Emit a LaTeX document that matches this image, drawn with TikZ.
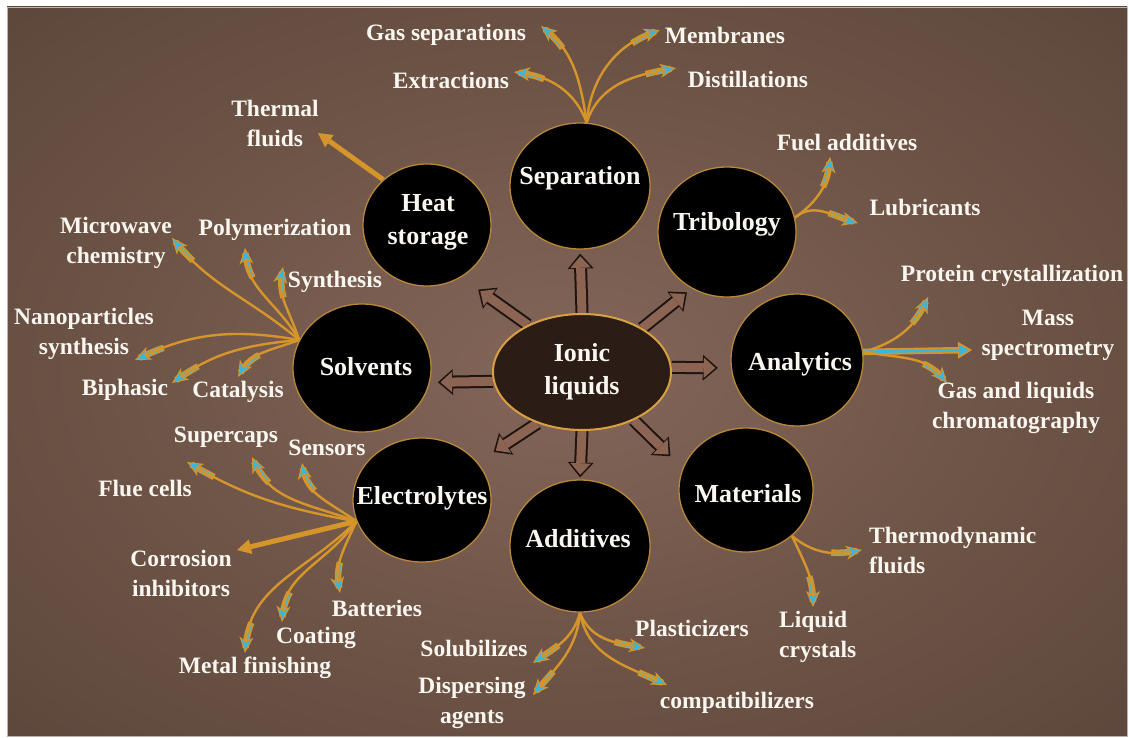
\documentclass[tikz,border=0pt]{standalone}
\usepackage{fontspec}
\setmainfont{Liberation Serif}
\usetikzlibrary{shapes.geometric,arrows.meta}

\definecolor{bgin}{HTML}{836659}
\definecolor{bgmid}{HTML}{6B5245}
\definecolor{bgout}{HTML}{4C3A31}
\definecolor{framegray}{HTML}{BDB3AA}
\definecolor{hubfill}{HTML}{2B1C16}
\definecolor{hubrim}{HTML}{D9A042}
\definecolor{rim}{HTML}{B8873A}
\definecolor{fatfill}{HTML}{8C6454}
\definecolor{fatrim}{HTML}{1F130F}
\definecolor{gold}{HTML}{D6952B}
\definecolor{tipcyan}{HTML}{3DB5DA}
\definecolor{labelwhite}{HTML}{FAF6F0}

\pgfdeclareradialshading{bgglow}{\pgfpoint{0bp}{0bp}}{%
  color(0bp)=(bgin); color(22bp)=(bgmid); color(52bp)=(bgout); color(80bp)=(bgout)}

\pgfdeclarelayer{bg}
\pgfdeclarelayer{links}
\pgfsetlayers{bg,links,main}

\tikzset{
  hub/.style={ellipse, fill=hubfill, draw=hubrim, line width=2pt,
    minimum width=178pt, minimum height=116pt, inner sep=0pt},
  blob/.style={ellipse, fill=black, draw=rim, line width=1.3pt, inner sep=0pt},
  ctext/.style={text=labelwhite, font=\fontsize{26}{33}\selectfont\bfseries,
    align=center, inner sep=0pt},
  ltext/.style={text=labelwhite, font=\fontsize{23.5}{30}\selectfont\bfseries,
    align=center, inner sep=0pt},
  fatout/.style={draw=fatrim, line width=13pt,
    -{Triangle[width=26pt,length=15pt,line width=0pt]}},
  fatin/.style={draw=fatfill, line width=9pt,
    -{Triangle[width=20.5pt,length=11.5pt,line width=0pt]}},
  branch/.style={draw=gold, line width=2.4pt, line cap=round,
    -{Stealth[length=16pt,width=14pt,inset=4.5pt,color=gold,fill=tipcyan,line width=1pt]}},
  bandout/.style={draw=gold, line width=6.5pt, dash pattern=on 26pt off 3000pt,
    shorten <=5pt},
  bandin/.style={draw=tipcyan!85!gold, line width=3.6pt, dash pattern=on 24pt off 3000pt,
    shorten <=5pt},
  trunk/.style={draw=gold, line width=5pt,
    -{Triangle[length=14pt,width=15pt,line width=0pt]}},
  massout/.style={draw=gold, line width=6.5pt,
    -{Triangle[length=14pt,width=17pt,line width=0pt]}},
  massin/.style={draw=tipcyan, line width=2.8pt,
    -{Triangle[length=10pt,width=11pt,line width=0pt]}},
}

% thick outlined arrow: outline pass, then fill pass set back a little
\newcommand\fatlink[4]{%
  \draw[fatout, shorten >=#3pt] (#1) -- (#2);
  \draw[fatin, shorten >=#4pt] (#1) -- (#2);}

% curved branch: a widened cyan band near the tip (drawn tip-first so the
% dash covers only the last stretch), then the gold stroke with its head
\newcommand\branchto[4]{%
  \draw[bandout] (#2) to[out=#4,in=#3] (#1);
  \draw[bandin]  (#2) to[out=#4,in=#3] (#1);
  \draw[branch]  (#1) to[out=#3,in=#4] (#2);}

\begin{document}
\begin{tikzpicture}[x=1pt,y=1pt]
\useasboundingbox (0,0) rectangle (1129,-738);

\begin{pgfonlayer}{bg}
  \fill[white] (0,0) rectangle (1129,-738);
  \shade[shading=bgglow] (7,-7) rectangle (1127,-736);
  \draw[line width=0.8pt, draw=framegray] (7,-7) rectangle (1127,-736);
\end{pgfonlayer}

% central hub and the eight application areas
\node[hub] (il) at (582,-372) {};
\node[blob, minimum width=140pt, minimum height=126pt] (sep) at (580,-186) {};
\node[blob, minimum width=128pt, minimum height=122pt] (hs)  at (427,-225) {};
\node[blob, minimum width=138pt, minimum height=130pt] (tri) at (727,-232) {};
\node[blob, minimum width=138pt, minimum height=128pt] (sol) at (362,-368) {};
\node[blob, minimum width=132pt, minimum height=132pt] (ana) at (797,-360) {};
\node[blob, minimum width=138pt, minimum height=124pt] (ele) at (422,-500) {};
\node[blob, minimum width=140pt, minimum height=132pt] (add) at (580,-546) {};
\node[blob, minimum width=134pt, minimum height=124pt] (mat) at (746,-490) {};

\node[ctext] (lIL)  at (582,-372) {Ionic\\liquids};
\node[ctext] (lSep) at (580,-178) {Separation};
\node[ctext] (lHS)  at (428,-222) {Heat\\storage};
\node[ctext] (lTri) at (727,-224) {Tribology};
\node[ctext] (lSol) at (366,-367) {Solvents};
\node[ctext] (lAna) at (800,-364) {Analytics};
\node[ctext] (lEle) at (422,-498) {Electrolytes};
\node[ctext] (lAdd) at (578,-539) {Additives};
\node[ctext] (lMat) at (748,-494) {Materials};

% uses
\node[ltext] (uGas)   at (446,-35)  {Gas separations};
\node[ltext] (uExt)   at (451,-80)  {Extractions};
\node[ltext] (uMem)   at (725,-35)  {Membranes};
\node[ltext] (uDis)   at (748,-79)  {Distillations};
\node[ltext] (uTh)    at (275,-123) {Thermal\\fluids};
\node[ltext] (uFuel)  at (847,-142) {Fuel additives};
\node[ltext] (uLub)   at (925,-207) {Lubricants};
\node[ltext] (uProt)  at (1012,-276) {Protein crystallization};
\node[ltext] (uMass)  at (1048,-335) {Mass\\spectrometry};
\node[ltext] (uChrom) at (1016,-408) {Gas and liquids\\chromatography};
\node[ltext, align=left, anchor=west] (uThermo) at (869,-550) {Thermodynamic\\fluids};
\node[ltext, align=left, anchor=west] (uLiq)    at (779,-637) {Liquid\\crystals};
\node[ltext] (uSolu)  at (474,-648) {Solubilizes};
\node[ltext] (uDisp)  at (472,-703) {Dispersing\\agents};
\node[ltext] (uPlas)  at (692,-628) {Plasticizers};
\node[ltext] (uComp)  at (737,-703) {compatibilizers};
\node[ltext] (uFlue)  at (145,-488) {Flue cells};
\node[ltext] (uSup)   at (226,-437) {Supercaps};
\node[ltext] (uSens)  at (327,-448) {Sensors};
\node[ltext] (uCorr)  at (181,-573) {Corrosion\\inhibitors};
\node[ltext] (uBatt)  at (377,-608) {Batteries};
\node[ltext] (uCoat)  at (316,-638) {Coating};
\node[ltext] (uMetal) at (255,-668) {Metal finishing};
\node[ltext] (uMicro) at (116,-243) {Microwave\\chemistry};
\node[ltext] (uPoly)  at (275,-230) {Polymerization};
\node[ltext] (uSyn)   at (335,-282) {Synthesis};
\node[ltext] (uNano)  at (84,-334)  {Nanoparticles\\synthesis};
\node[ltext] (uBi)    at (125,-390) {Biphasic};
\node[ltext] (uCat)   at (238,-392) {Catalysis};

% arrow tips beside the labels
\coordinate (tGas)   at (541,-26);
\coordinate (tExt)   at (514,-72);
\coordinate (tMem)   at (660,-30);
\coordinate (tDis)   at (676,-68);
\coordinate (tTh)    at (318,-133);
\coordinate (tFuel)  at (830,-157);
\coordinate (tLub)   at (858,-223);
\coordinate (tProt)  at (928,-297);
\coordinate (tMass)  at (972,-350);
\coordinate (tChrom) at (947,-383);
\coordinate (tThermo) at (862,-550);
\coordinate (tLiq)   at (813,-607);
\coordinate (tSolu)  at (533,-663);
\coordinate (tDisp)  at (533,-695);
\coordinate (tPlas)  at (645,-648);
\coordinate (tComp)  at (667,-685);
\coordinate (tFlue)  at (187,-462);
\coordinate (tSup)   at (252,-457);
\coordinate (tSens)  at (302,-463);
\coordinate (tCorr)  at (237,-550);
\coordinate (tBatt)  at (340,-593);
\coordinate (tCoat)  at (282,-622);
\coordinate (tMetal) at (245,-653);
\coordinate (tMicro) at (172,-238);
\coordinate (tPoly)  at (245,-248);
\coordinate (tSyn)   at (283,-267);
\coordinate (tNano)  at (135,-360);
\coordinate (tBi)    at (172,-383);
\coordinate (tCat)   at (238,-377);

\begin{pgfonlayer}{links}
  % hub to areas
  \fatlink{il.90}{sep.-90}{4}{6.6}
  \fatlink{il.139}{hs.-57}{21}{23.6}
  \fatlink{il.36}{tri.-122}{6}{8.6}
  \fatlink{il.186}{sol.-12}{8}{10.6}
  \fatlink{il.3}{ana.187}{13}{15.6}
  \fatlink{il.229}{ele.34}{19}{21.6}
  \fatlink{il.-90}{add.90}{2}{4.6}
  \fatlink{il.-43}{mat.161}{17}{19.6}

  % separation
  \branchto{sep.84}{tGas}{98}{-40}
  \branchto{sep.84}{tExt}{110}{-8}
  \branchto{sep.84}{tMem}{85}{200}
  \branchto{sep.84}{tDis}{72}{190}
  % heat storage
  \draw[trunk] (hs.134) -- (tTh);
  % tribology
  \branchto{tri.12}{tFuel}{35}{-95}
  \branchto{tri.12}{tLub}{40}{165}
  % analytics
  \branchto{ana.7}{tProt}{15}{-115}
  \draw[massout] (ana.7) -- (tMass);
  \draw[massin, shorten >=3pt] (ana.7) -- (tMass);
  \branchto{ana.7}{tChrom}{-10}{130}
  % materials
  \branchto{mat.-45}{tThermo}{-40}{190}
  \branchto{mat.-45}{tLiq}{-65}{90}
  % additives
  \branchto{add.-90}{tSolu}{-105}{35}
  \branchto{add.-90}{tDisp}{-95}{50}
  \branchto{add.-90}{tPlas}{-70}{170}
  \branchto{add.-90}{tComp}{-80}{155}
  % electrolytes
  \branchto{ele.198}{tFlue}{170}{-30}
  \branchto{ele.198}{tSup}{160}{-65}
  \branchto{ele.198}{tSens}{145}{-80}
  \draw[trunk] (ele.198) -- (tCorr);
  \branchto{ele.198}{tBatt}{-115}{100}
  \branchto{ele.198}{tCoat}{-125}{85}
  \branchto{ele.198}{tMetal}{-135}{85}
  % solvents
  \branchto{sol.156}{tMicro}{140}{-50}
  \branchto{sol.156}{tPoly}{120}{-85}
  \branchto{sol.156}{tSyn}{108}{-100}
  \branchto{sol.156}{tNano}{170}{25}
  \branchto{sol.156}{tBi}{185}{35}
  \branchto{sol.156}{tCat}{200}{60}
\end{pgfonlayer}
\end{tikzpicture}
\end{document}
